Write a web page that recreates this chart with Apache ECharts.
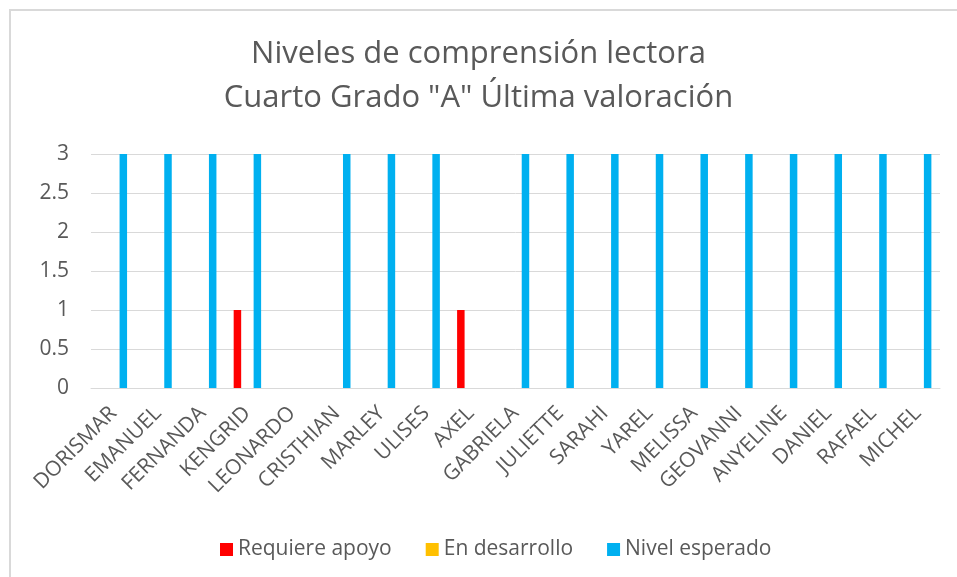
<!DOCTYPE html>
<html lang="es">
<head>
    <meta charset="UTF-8">
    <title>Niveles de comprensión lectora</title>
    <script type="text/javascript" src="https://cdn.jsdelivr.net/npm/echarts@6.0.0/dist/echarts.min.js"></script>
    <style type="text/css">
        html, body { margin: 0; padding: 0; background: #fff; }
        #main { position: absolute; left: 0; top: 0; width: 957px; height: 577px; }
        #frame {
            position: absolute; left: 9px; top: 9px; width: 960px; height: 580px;
            border-left: 2px solid #d9d9d9; border-top: 2px solid #d9d9d9;
            pointer-events: none;
        }
    </style>
</head>
<body>
    <div id="main"></div>
    <div id="frame"></div>
    <script type="text/javascript">
        // alumnos
        var alumnos = ['DORISMAR', 'EMANUEL', 'FERNANDA', 'KENGRID', 'LEONARDO', 'CRISTHIAN', 'MARLEY',
            'ULISES', 'AXEL', 'GABRIELA', 'JULIETTE', 'SARAHI', 'YAREL', 'MELISSA', 'GEOVANNI',
            'ANYELINE', 'DANIEL', 'RAFAEL', 'MICHEL'];
        var requiere_apoyo = [0, 0, 0, 1, 0, 0, 0, 0, 1, 0, 0, 0, 0, 0, 0, 0, 0, 0, 0];
        var en_desarrollo = [0, 0, 0, 0, 0, 0, 0, 0, 0, 0, 0, 0, 0, 0, 0, 0, 0, 0, 0];
        var nivel_esperado = [3, 3, 3, 3, 0, 3, 3, 3, 0, 3, 3, 3, 3, 3, 3, 3, 3, 3, 3];
        var niveles = ['Requiere apoyo', 'En desarrollo', 'Nivel esperado'];
        var colores = ['#FF0000', '#FFC000', '#00B0F0'];
        var titulo = ['Niveles de comprensión lectora', 'Cuarto Grado "A" Última valoración'];

        var fuente = '"Open Sans", "Noto Sans", sans-serif';
        var gris = '#595959';

        function serie(nombre, datos, color) {
            return {
                name: nombre,
                type: 'bar',
                data: datos.map(function (v) { return v === 0 ? '-' : v; }),
                barWidth: 7.5,
                barGap: '33%',
                itemStyle: { color: color },
                animation: false
            };
        }

        var chartDom = document.getElementById('main');
        var myChart = echarts.init(chartDom, null, { renderer: 'canvas' });
        var estiloTitulo = { fontFamily: fuente, fontSize: 31, fontWeight: 'normal', color: gris, lineHeight: 40 };
        var option = {
            color: colores,
            title: [
                { text: titulo[0], left: 'center', top: 34, padding: 0, textStyle: estiloTitulo },
                { text: titulo[1], left: 'center', top: 78, padding: 0, textStyle: estiloTitulo }
            ],
            legend: {
                data: niveles,
                top: 534,
                left: 215,
                itemWidth: 13,
                itemHeight: 13,
                itemGap: 34,
                icon: 'rect',
                textStyle: { fontFamily: fuente, fontSize: 21, color: gris }
            },
            grid: { left: 91, right: 17, top: 154, bottom: 189 },
            xAxis: {
                type: 'category',
                data: alumnos,
                axisTick: { show: false },
                axisLine: { lineStyle: { color: '#d9d9d9', width: 1 } },
                axisLabel: { interval: 0, rotate: 45, margin: 22, fontFamily: fuente, fontSize: 21, color: gris }
            },
            yAxis: {
                type: 'value',
                min: 0,
                max: 3,
                interval: 0.5,
                axisLine: { show: false },
                axisTick: { show: false },
                splitLine: { lineStyle: { color: '#d9d9d9', width: 1 } },
                axisLabel: { margin: 22, fontFamily: fuente, fontSize: 21, color: gris }
            },
            series: [
                serie(niveles[0], requiere_apoyo, colores[0]),
                serie(niveles[1], en_desarrollo, colores[1]),
                serie(niveles[2], nivel_esperado, colores[2])
            ]
        };
        myChart.setOption(option);
    </script>
</body>
</html>
